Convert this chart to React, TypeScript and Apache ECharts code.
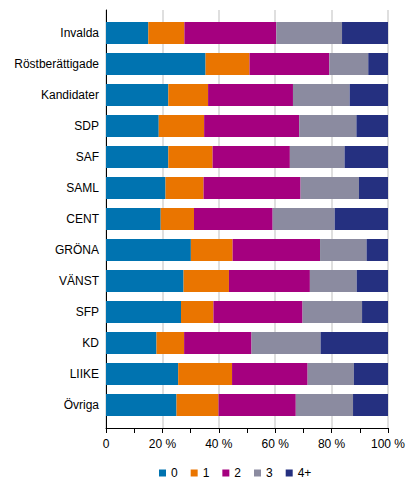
import { useEffect, useRef } from 'react'
import * as echarts from 'echarts'

// Andel (%) per kategori, staplat till 100 %
const kategorier = [
  'Invalda', 'Röstberättigade', 'Kandidater', 'SDP', 'SAF', 'SAML', 'CENT',
  'GRÖNA', 'VÄNST', 'SFP', 'KD', 'LIIKE', 'Övriga',
]
const serieNamn = ['0', '1', '2', '3', '4+']
const v0 = [15.0, 35.3, 22.1, 18.7, 22.1, 21.1, 19.4, 30.1, 27.5, 26.6, 17.9, 25.6, 25.0]
const v1 = [12.8, 15.6, 14.1, 16.1, 15.7, 13.5, 11.8, 14.8, 16.1, 11.5, 9.8, 19.1, 14.9]
const v2 = [32.6, 28.3, 30.1, 33.7, 27.4, 34.4, 27.9, 31.0, 28.7, 31.6, 23.9, 26.8, 27.4]
const v3 = [23.3, 13.8, 20.1, 20.3, 19.4, 20.7, 22.0, 16.5, 16.6, 21.1, 24.5, 16.4, 20.3]
const v4 = [16.3, 7.0, 13.6, 11.2, 15.4, 10.3, 18.9, 7.6, 11.1, 9.2, 23.9, 12.1, 12.4]
const farger = ['#0073b0', '#ea7500', '#a5007f', '#8b8ba0', '#253080']

const font = '"Liberation Sans", Arial, sans-serif'

export default function App() {
  const ref = useRef<HTMLDivElement>(null)

  useEffect(() => {
    if (!ref.current) return
    const chart = echarts.init(ref.current, undefined, { renderer: 'svg' })
    const varden = [v0, v1, v2, v3, v4]

    chart.setOption({
      animation: false,
      backgroundColor: '#fff',
      textStyle: { fontFamily: font },
      // grid 0 = ram med axlar och stödlinjer, grid 1 = staplarna (lite inskjutna)
      grid: [
        { left: 106, right: 28, top: 10, bottom: 63 },
        { left: 106, right: 28, top: 17.5, bottom: 70.5 },
      ],
      legend: {
        data: serieNamn,
        left: 154,
        top: 462,
        itemWidth: 7,
        itemHeight: 7,
        itemGap: 13,
        icon: 'rect',
        textStyle: { fontFamily: font, fontSize: 12, color: '#000' },
      },
      xAxis: [
        {
          gridIndex: 0,
          type: 'value',
          min: 0,
          max: 100,
          interval: 20,
          axisLine: { show: true, lineStyle: { color: '#000', width: 1 } },
          axisTick: { show: true, length: 5, lineStyle: { color: '#000' } },
          minorTick: { show: true, splitNumber: 2, length: 5, lineStyle: { color: '#000' } },
          splitLine: { show: true, lineStyle: { color: '#d4d4d4', width: 1.5 } },
          axisLabel: {
            margin: 10,
            fontSize: 12,
            color: '#000',
            formatter: (v: number) => (v === 0 ? '0' : `${v} %`),
          },
        },
        { gridIndex: 1, type: 'value', min: 0, max: 100, show: false },
      ],
      yAxis: [
        {
          gridIndex: 0,
          type: 'category',
          data: kategorier,
          inverse: true,
          axisLine: { show: true, lineStyle: { color: '#000', width: 1 } },
          axisTick: { show: false },
          axisLabel: { show: false },
        },
        {
          gridIndex: 1,
          type: 'category',
          data: kategorier,
          inverse: true,
          axisLine: { show: false },
          axisTick: { show: false },
          axisLabel: { margin: 7, fontSize: 12, color: '#000' },
        },
      ],
      series: serieNamn.map((namn, i) => ({
        name: namn,
        type: 'bar',
        xAxisIndex: 1,
        yAxisIndex: 1,
        stack: 'tot',
        barWidth: 22,
        data: varden[i],
        itemStyle: { color: farger[i] },
      })),
    })

    return () => chart.dispose()
  }, [])

  return (
    <div
      ref={ref}
      style={{ position: 'absolute', left: 0, top: 0, width: 416, height: 491 }}
    />
  )
}
